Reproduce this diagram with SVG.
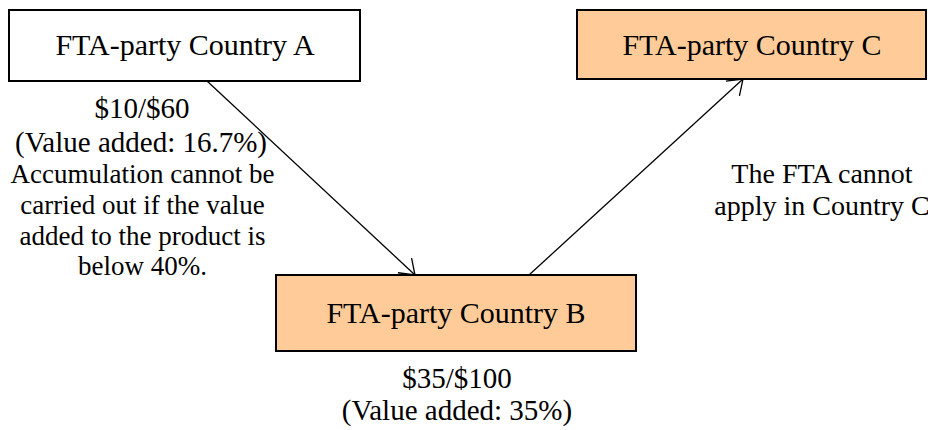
<svg xmlns="http://www.w3.org/2000/svg" width="928" height="430" viewBox="0 0 928 430">
  <style>
    .box { stroke: #000; stroke-width: 2; }
    .plain { fill: #fff; }
    .peach { fill: #FFCC99; }
    .lbl { font-family: "Liberation Serif", "Times New Roman", serif; font-size: 30px; fill: #000; text-anchor: middle; }
    .val { font-family: "Liberation Serif", "Times New Roman", serif; font-size: 29px; fill: #000; text-anchor: middle; }
    .note { font-family: "Liberation Serif", "Times New Roman", serif; font-size: 27px; fill: #000; text-anchor: middle; }
    .note2 { font-family: "Liberation Serif", "Times New Roman", serif; font-size: 28px; fill: #000; text-anchor: middle; }
    .conn { stroke: #000; stroke-width: 1.3; fill: none; }
  </style>
  <defs>
    <marker id="arrow" viewBox="-16 -12 18 24" refX="0" refY="0" markerWidth="18" markerHeight="24" markerUnits="userSpaceOnUse" orient="auto">
      <path d="M-14,-10 L0,0 L-14,10" fill="none" stroke="#000" stroke-width="1.3"/>
    </marker>
  </defs>
  <rect width="928" height="430" fill="#fff"/>
  <g id="connectors">
    <line class="conn" x1="207" y1="81" x2="415" y2="275" marker-end="url(#arrow)"/>
    <line class="conn" x1="529" y1="275" x2="743" y2="79" marker-end="url(#arrow)"/>
  </g>
  <g id="node-a">
    <rect class="box plain" x="9" y="10" width="351" height="71"/>
    <text class="lbl" x="185" y="55">FTA-party Country A</text>
  </g>
  <g id="node-c">
    <rect class="box peach" x="577" y="10" width="349" height="69"/>
    <text class="lbl" x="752" y="55">FTA-party Country C</text>
  </g>
  <g id="node-b">
    <rect class="box peach" x="276" y="275" width="360" height="76"/>
    <text class="lbl" x="456" y="323">FTA-party Country B</text>
  </g>
  <g id="label-a">
    <text class="val" x="142" y="118">$10/$60</text>
    <text class="val" x="141" y="152">(Value added: 16.7%)</text>
    <text class="note" x="142.5" y="183">Accumulation cannot be</text>
    <text class="note" x="142.5" y="214">carried out if the value</text>
    <text class="note" x="142.5" y="245">added to the product is</text>
    <text class="note" x="142.5" y="275">below 40%.</text>
  </g>
  <g id="label-c">
    <text class="note2" x="822" y="183">The FTA cannot</text>
    <text class="note2" x="822" y="215">apply in Country C</text>
  </g>
  <g id="label-b">
    <text class="val" x="457" y="388">$35/$100</text>
    <text class="val" x="457" y="420">(Value added: 35%)</text>
  </g>
</svg>
